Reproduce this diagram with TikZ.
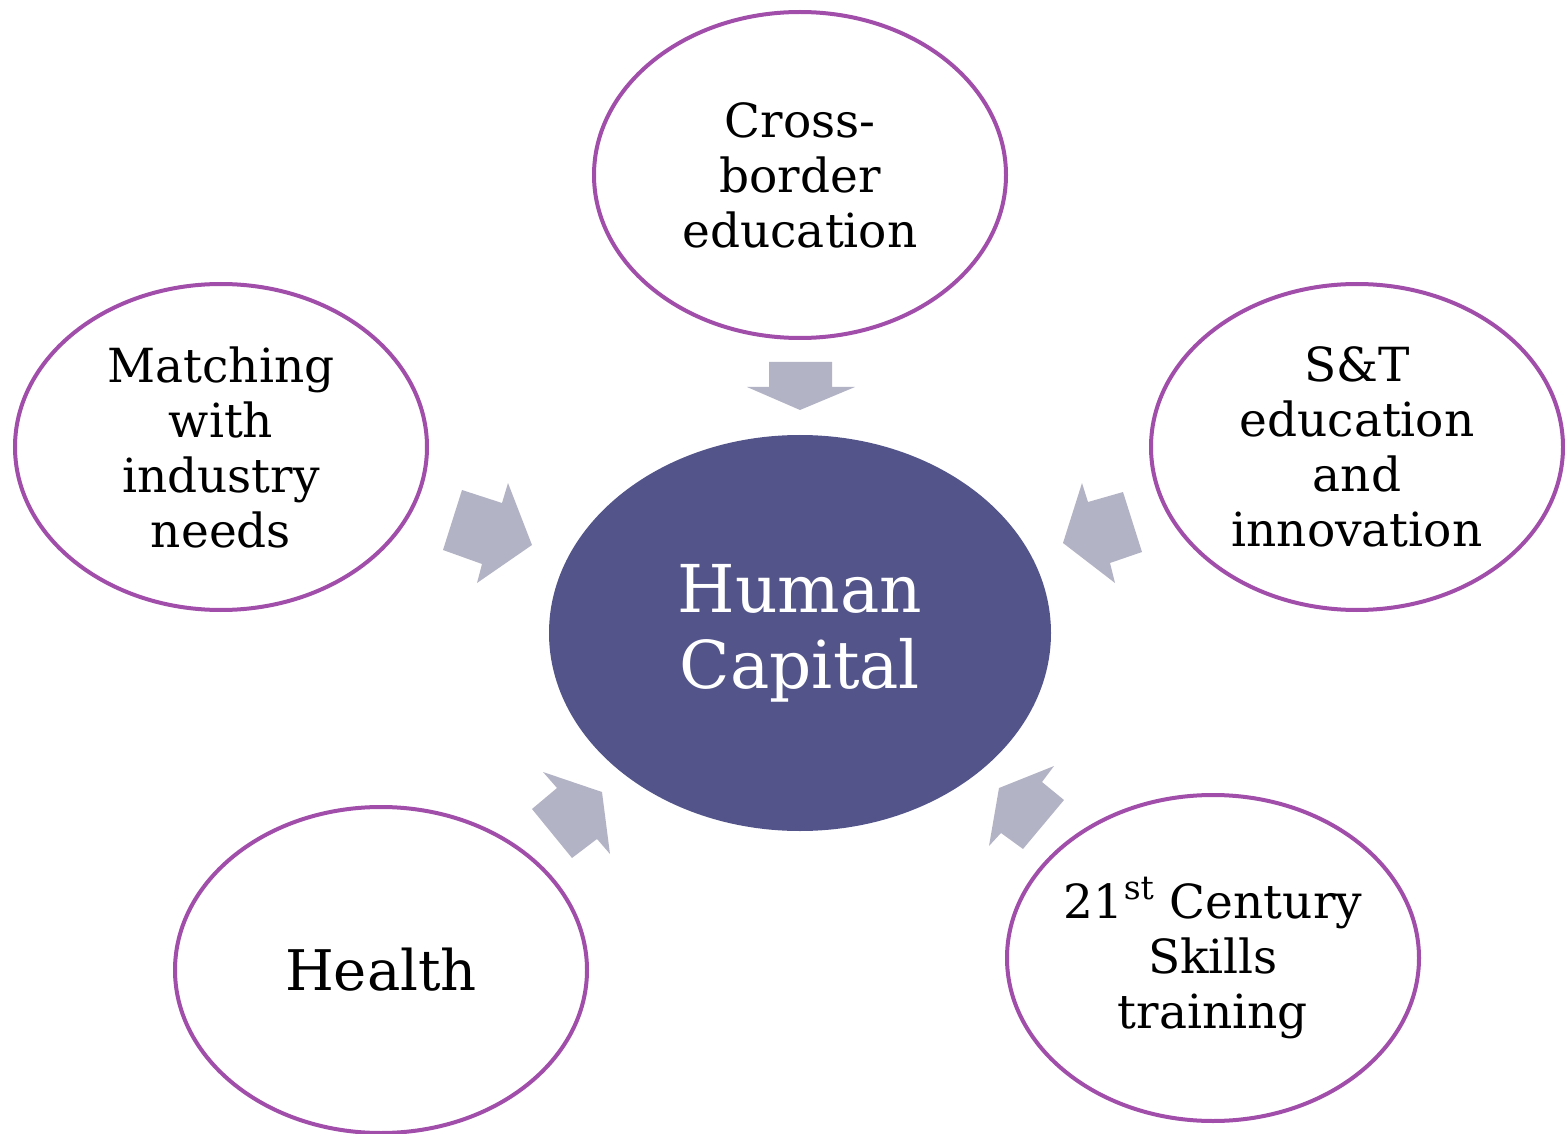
\documentclass[tikz,border=0pt]{standalone}
\usepackage{fontspec}
\setmainfont{DejaVu Serif}
\usetikzlibrary{shapes.geometric}
\definecolor{hcfill}{HTML}{53548A}
\definecolor{ringcol}{HTML}{A04EAA}
\definecolor{arrowcol}{HTML}{B3B3C6}
\tikzset{
  outer/.style={ellipse, draw=ringcol, line width=2pt, fill=white, inner sep=-30pt,
    minimum width=206pt, minimum height=163pt, align=center,
    font=\fontsize{23.5}{27.5}\selectfont},
  hub/.style={ellipse, fill=hcfill, inner sep=-30pt, minimum width=251pt, minimum height=198pt,
    align=center, text=white, font=\fontsize{33}{38}\selectfont},
  blockarrow/.style={fill=arrowcol, draw=none}
}
\begin{document}
\begin{tikzpicture}[x=0.5pt,y=-0.5pt]
\useasboundingbox (0,0) rectangle (1565,1134);
\node[hub] (hc) at (800,633) {Human\\Capital};
\node[outer] (top) at (800,175) {Cross-\\border\\education};
\node[outer] (left) at (221,447) {Matching\\with\\industry\\needs};
\node[outer] (right) at (1357,447) {S\&T\\education\\and\\innovation};
\node[outer, font=\fontsize{28}{32}\selectfont] (health) at (381,970) {Health};
\node[outer] (skills) at (1213,958) {21\textsuperscript{st} Century\\Skills\\training};
% block arrows
\fill[blockarrow] (769,362) -- (832,362) -- (832,387) -- (855,387) -- (800,410) -- (747,387) -- (769,387) -- cycle;
\fill[blockarrow] (462,490) -- (502,503) -- (508,483) -- (532,545) -- (477,583) -- (482,564) -- (443,550) -- cycle;
\fill[blockarrow] (1123,492) -- (1088,502) -- (1082,483) -- (1063,543) -- (1115,583) -- (1110,563) -- (1142,552) -- cycle;
\fill[blockarrow] (543,772) -- (557,788) -- (532,809) -- (572,858) -- (597,839) -- (610,854) -- (602,792) -- cycle;
\fill[blockarrow] (999,788) -- (1054,766) -- (1042,782) -- (1064,800) -- (1023,849) -- (1001,833) -- (989,846) -- cycle;
\end{tikzpicture}
\end{document}
